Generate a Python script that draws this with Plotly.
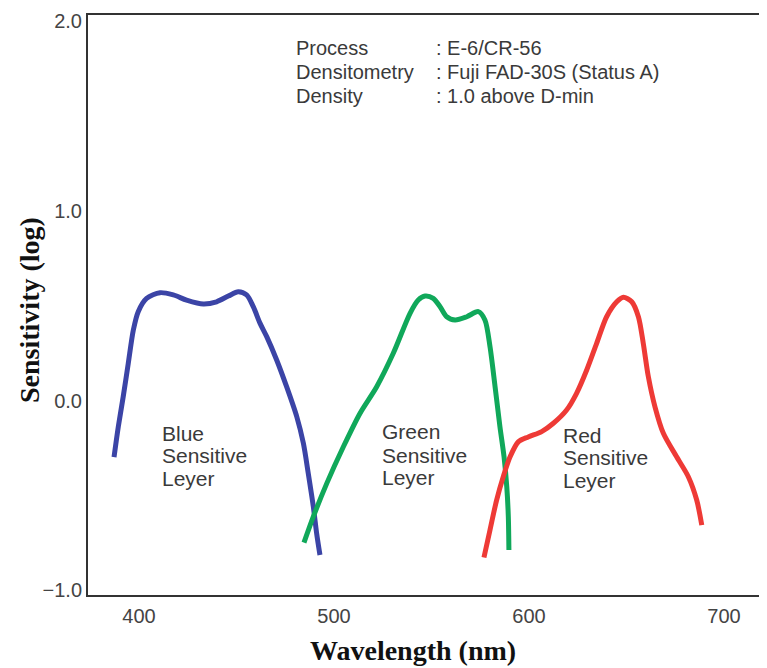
import plotly.graph_objects as go

# Spectral sensitivity curves (wavelength nm, log sensitivity)
blue_wl = [387.2, 389.4, 391.9, 394.5, 397.1, 399.6, 403.9, 410.8, 417.6, 424.4, 433.0, 439.8,
           445.8, 450.9, 455.2, 458.6, 462.1, 465.5, 470.6, 475.7, 480.9, 484.3, 486.8, 489.4,
           491.1, 492.8]
blue_s = [-0.299, -0.138, 0.020, 0.196, 0.372, 0.469, 0.539, 0.569, 0.557, 0.530, 0.509, 0.521,
          0.551, 0.574, 0.557, 0.495, 0.407, 0.337, 0.214, 0.073, -0.085, -0.226, -0.384, -0.560,
          -0.701, -0.815]

green_wl = [484.6, 489.4, 496.3, 504.8, 513.3, 521.9, 530.4, 539.0, 543.2, 546.7, 550.9, 554.4,
            557.8, 562.1, 568.1, 574.0, 577.4, 580.0, 582.6, 585.1, 587.2, 588.6, 589.4, 589.7]
green_s = [-0.750, -0.613, -0.437, -0.244, -0.068, 0.073, 0.249, 0.460, 0.530, 0.551, 0.539, 0.495,
           0.442, 0.425, 0.442, 0.469, 0.425, 0.284, 0.073, -0.138, -0.297, -0.455, -0.613, -0.789]

red_wl = [576.9, 580.0, 583.4, 586.8, 590.3, 594.5, 599.6, 606.5, 612.5, 619.3, 624.4, 629.6,
          634.7, 639.8, 645.0, 648.4, 652.7, 656.1, 658.6, 661.2, 664.6, 668.9, 675.7, 681.7,
          686.0, 688.6]
red_s = [-0.828, -0.683, -0.525, -0.402, -0.297, -0.218, -0.192, -0.164, -0.120, -0.050, 0.038, 0.161,
         0.302, 0.442, 0.521, 0.545, 0.521, 0.442, 0.302, 0.126, -0.033, -0.173, -0.297, -0.402,
         -0.525, -0.657]

x_ticks = [400, 500, 600, 700]
y_ticks = [-1.0, 0.0, 1.0, 2.0]
y_tick_labels = ["\u22121.0", "0.0", "1.0", "2.0"]

header_keys = ["Process", "Densitometry", "Density"]
header_vals = [": E-6/CR-56", ": Fuji FAD-30S (Status A)", ": 1.0 above D-min"]
header_y = [1.86, 1.733, 1.607]

layer_labels = [
    (["Blue", "Sensitive", "Leyer"], 411.0, [-0.172, -0.288, -0.409]),
    (["Green", "Sensitive", "Leyer"], 523.7, [-0.166, -0.288, -0.404]),
    (["Red", "Sensitive", "Leyer"], 616.5, [-0.182, -0.303, -0.420]),
]

fig = go.Figure()
for wl, s, col in [(blue_wl, blue_s, "#3B44A6"), (green_wl, green_s, "#10A85A"), (red_wl, red_s, "#EE3A36")]:
    fig.add_trace(go.Scatter(x=wl, y=s, mode="lines",
                             line=dict(color=col, width=5, shape="spline", smoothing=0.8),
                             showlegend=False, hoverinfo="skip"))

sans = "Liberation Sans, Arial, Helvetica, sans-serif"
serif = "Liberation Serif, Times New Roman, serif"
txt_col = "#3a3a3a"

ann = []
for k, v, yy in zip(header_keys, header_vals, header_y):
    ann.append(dict(x=479.5, y=yy, text=k, showarrow=False, xanchor="left", yanchor="middle",
                    font=dict(family=sans, size=20, color=txt_col)))
    ann.append(dict(x=551.3, y=yy, text=v, showarrow=False, xanchor="left", yanchor="middle",
                    font=dict(family=sans, size=20, color=txt_col)))
for lines, xx, ys in layer_labels:
    for t, yy in zip(lines, ys):
        ann.append(dict(x=xx, y=yy, text=t, showarrow=False, xanchor="left", yanchor="middle",
                        font=dict(family=sans, size=21, color=txt_col)))

# page pixel positions of the axis titles (page has an 8px body margin)
OFF = 8
ann.append(dict(x=413 - OFF, y=650 - OFF, xref="paper", yref="paper", text="<b>Wavelength (nm)</b>",
                showarrow=False, xanchor="center", yanchor="middle",
                font=dict(family=serif, size=28, color="#111")))
ann.append(dict(x=29 - OFF, y=310 - OFF, xref="paper", yref="paper", text="<b>Sensitivity (log)</b>",
                showarrow=False, xanchor="center", yanchor="middle", textangle=-90,
                font=dict(family=serif, size=28, color="#111")))

W, H = 767 - OFF, 668 - OFF
L, R, T, B = 88 - OFF, 0, 15 - OFF, 668 - 595
pw, ph = W - L - R, H - T - B
for a in ann[-2:]:
    a["x"] = (a["x"] - L) / pw
    a["y"] = (H - B - a["y"]) / ph

fig.update_layout(
    width=W, height=H,
    margin=dict(l=L, r=R, t=T, b=B),
    paper_bgcolor="white", plot_bgcolor="white",
    annotations=ann,
    xaxis=dict(range=[373.85, 722.05], tickvals=x_ticks, ticktext=[str(v) for v in x_ticks],
               showgrid=False, zeroline=False, showline=True, linecolor="#333", linewidth=2,
               mirror=True, ticks="outside", ticklen=2, tickcolor="rgba(0,0,0,0)",
               tickfont=dict(family=sans, size=20, color="#444")),
    yaxis=dict(range=[-1.026, 2.034], tickvals=y_ticks, ticktext=y_tick_labels,
               showgrid=False, zeroline=False, showline=True, linecolor="#333", linewidth=2,
               mirror=False, ticks="", tickfont=dict(family=sans, size=20, color="#444")),
)

fig.write_html("out.html")
